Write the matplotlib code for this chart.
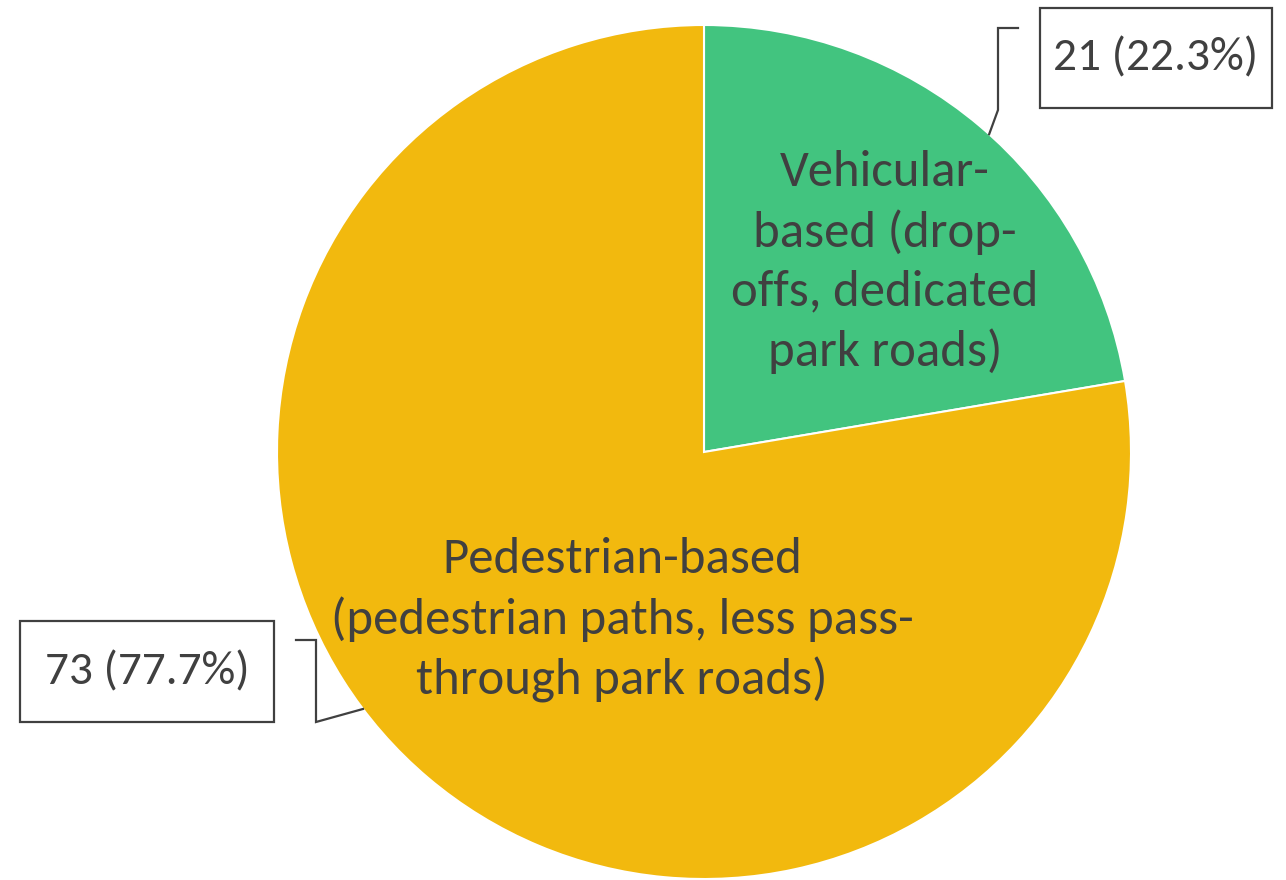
import matplotlib.pyplot as plt
import numpy as np

# Данные
categories = ['Vehicular-\nbased (drop-\noffs, dedicated\npark roads)',
              'Pedestrian-based\n(pedestrian paths, less pass-\nthrough park roads)']
counts = [21, 73]
colors = ['#42C47F', '#F2B90E']

plt.rcParams['font.family'] = ['Carlito', 'Open Sans', 'DejaVu Sans']
text_color = '#404040'

W, H = 1286, 880
fig = plt.figure(figsize=(W / 100, H / 100), dpi=100)
ax = fig.add_axes([0, 0, 1, 1])

# Пиксельные координаты: центр и радиус круга
cx, cy, R = 704, H - 452, 427
wedges, _ = ax.pie(counts, colors=colors, startangle=90, counterclock=False,
                   center=(cx, cy), radius=R,
                   wedgeprops=dict(edgecolor='white', linewidth=1.5))
ax.set_xlim(0, W)
ax.set_ylim(0, H)
ax.set_aspect('equal')
ax.axis('off')

# Подписи внутри секторов
label_pos = [(885, H - 262), (622, H - 620)]
for (x, y), lab in zip(label_pos, categories):
    ax.text(x, y, lab, ha='center', va='center', fontsize=36.5,
            color=text_color, linespacing=1.4)

# Выноски со значениями
total = sum(counts)
value_labels = [f'{c} ({c / total * 100:.1f}%)' for c in counts]

# прямоугольники рамок (левый, верх, ширина, высота) в пикселях
boxes = [(1040, 8, 232, 100), (20, 621, 254, 101)]
# углы точки привязки на окружности
anchor_ang = [48.1, 217.0]
# ломаные выноски: точка излома и конец
elbows = [[(998, 110), (998, 28), (1018, 28)],
          [(316, 722), (316, 640), (296, 640)]]

for lab, (bx, by, bw, bh), ang, el in zip(value_labels, boxes, anchor_ang, elbows):
    a = np.deg2rad(ang)
    px = [cx + R * np.cos(a)] + [p[0] for p in el]
    py = [cy + R * np.sin(a)] + [H - p[1] for p in el]
    ax.plot(px, py, color=text_color, lw=1.6, solid_joinstyle='miter')
    rect = plt.Rectangle((bx, H - by - bh), bw, bh, fill=False,
                         edgecolor=text_color, lw=1.6)
    ax.add_patch(rect)
    ax.text(bx + bw / 2, H - by - bh / 2, lab, ha='center', va='center',
            fontsize=34, color=text_color)

fig.savefig('out.png', dpi=100)
